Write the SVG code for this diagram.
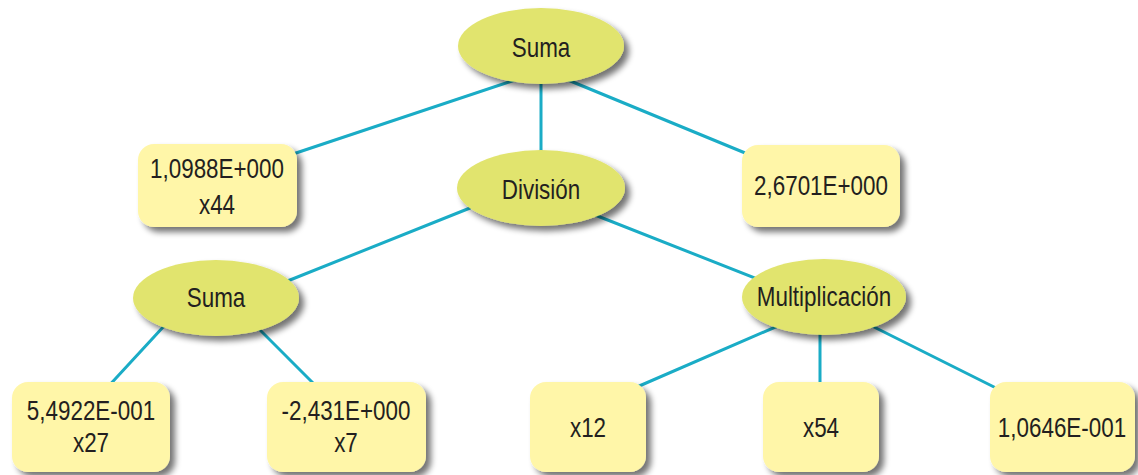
<svg xmlns="http://www.w3.org/2000/svg" width="1138" height="475" viewBox="0 0 1138 475">
<defs>
<filter id="sh" x="-20%" y="-20%" width="150%" height="160%">
<feGaussianBlur in="SourceAlpha" stdDeviation="3"/>
<feOffset dx="5" dy="5" result="b"/>
<feComponentTransfer><feFuncA type="linear" slope="0.55"/></feComponentTransfer>
<feMerge><feMergeNode/><feMergeNode in="SourceGraphic"/></feMerge>
</filter>
<style>
.box{fill:#FFF6A8;filter:url(#sh)}
.ell{fill:#E1E46E;filter:url(#sh)}
.t{font-family:"Liberation Sans",Arial,sans-serif;font-size:27px;fill:#231F20;text-anchor:middle}
.c line{stroke:#1AACC6;stroke-width:3;stroke-linecap:round}
</style>
</defs>
<rect width="1138" height="475" fill="#FFFFFF"/>
<g class="c" id="connectors">
<line x1="515" y1="80" x2="290" y2="155"/>
<line x1="541" y1="80" x2="541" y2="155"/>
<line x1="568" y1="80" x2="750" y2="155"/>
<line x1="470" y1="208" x2="285" y2="282"/>
<line x1="595" y1="215" x2="765" y2="282"/>
<line x1="165" y1="325" x2="105" y2="390"/>
<line x1="255" y1="325" x2="320" y2="390"/>
<line x1="780" y1="325" x2="630" y2="390"/>
<line x1="820" y1="330" x2="820" y2="385"/>
<line x1="870" y1="325" x2="1000" y2="390"/>
</g>
<g id="n-suma-top"><ellipse class="ell" cx="541" cy="46" rx="83" ry="38"/><text class="t" transform="translate(541,57) scale(0.83 1)">Suma</text></g>
<g id="n-b1"><rect class="box" x="138" y="144" width="159" height="83" rx="16"/><text class="t" transform="translate(217,178) scale(0.83 1)">1,0988E+000</text><text class="t" transform="translate(217,214) scale(0.83 1)">x44</text></g>
<g id="n-division"><ellipse class="ell" cx="541" cy="188" rx="84" ry="38"/><text class="t" transform="translate(541,199) scale(0.83 1)">División</text></g>
<g id="n-b2"><rect class="box" x="742" y="145" width="158" height="82" rx="16"/><text class="t" transform="translate(821,195) scale(0.83 1)">2,6701E+000</text></g>
<g id="n-suma-left"><ellipse class="ell" cx="216" cy="298" rx="83" ry="38"/><text class="t" transform="translate(216,307) scale(0.83 1)">Suma</text></g>
<g id="n-mult"><ellipse class="ell" cx="824" cy="297" rx="82" ry="38"/><text class="t" transform="translate(824,306) scale(0.83 1)">Multiplicación</text></g>
<g id="n-b3"><rect class="box" x="12" y="382" width="158" height="90" rx="16"/><text class="t" transform="translate(91,420) scale(0.83 1)">5,4922E-001</text><text class="t" transform="translate(91,452) scale(0.83 1)">x27</text></g>
<g id="n-b4"><rect class="box" x="267" y="382" width="159" height="90" rx="16"/><text class="t" transform="translate(346,420) scale(0.83 1)">-2,431E+000</text><text class="t" transform="translate(346,452) scale(0.83 1)">x7</text></g>
<g id="n-b5"><rect class="box" x="530" y="382" width="116" height="90" rx="16"/><text class="t" transform="translate(588,437) scale(0.83 1)">x12</text></g>
<g id="n-b6"><rect class="box" x="763" y="382" width="116" height="90" rx="16"/><text class="t" transform="translate(821,437) scale(0.83 1)">x54</text></g>
<g id="n-b7"><rect class="box" x="990" y="382" width="145" height="90" rx="16"/><text class="t" transform="translate(1062,437) scale(0.83 1)">1,0646E-001</text></g>
</svg>
